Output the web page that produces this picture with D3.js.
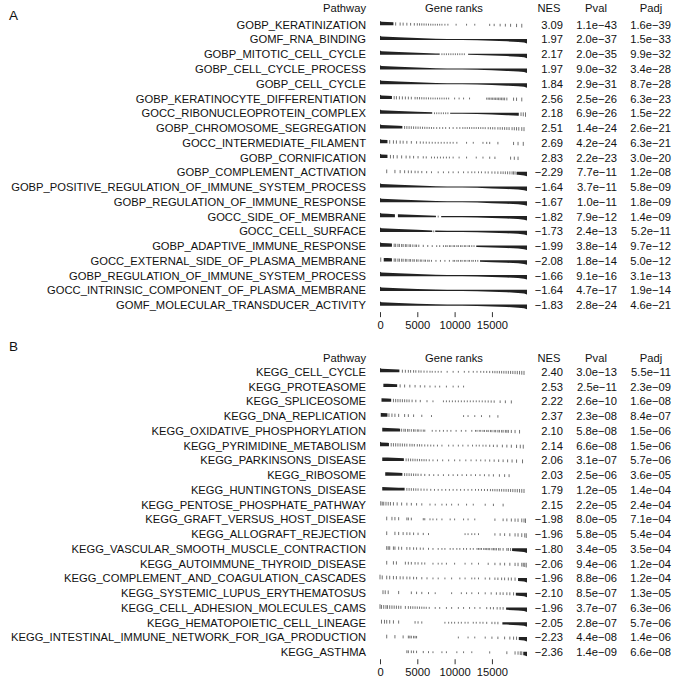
<!DOCTYPE html>
<html>
<head>
<meta charset="utf-8">
<script src="https://cdn.jsdelivr.net/npm/d3@7"></script>
<style>
  body { margin: 0; background: #fff; }
  text { font-family: "Liberation Sans", Arial, Helvetica, sans-serif; fill: #111; }
</style>
</head>
<body>
<div id="canvas"></div>
<script>
// ---- data (gene ranks given in thousands) ----
var goPathways = ['GOBP_KERATINIZATION','GOMF_RNA_BINDING','GOBP_MITOTIC_CELL_CYCLE','GOBP_CELL_CYCLE_PROCESS',
  'GOBP_CELL_CYCLE','GOBP_KERATINOCYTE_DIFFERENTIATION','GOCC_RIBONUCLEOPROTEIN_COMPLEX','GOBP_CHROMOSOME_SEGREGATION',
  'GOCC_INTERMEDIATE_FILAMENT','GOBP_CORNIFICATION','GOBP_COMPLEMENT_ACTIVATION','GOBP_POSITIVE_REGULATION_OF_IMMUNE_SYSTEM_PROCESS',
  'GOBP_REGULATION_OF_IMMUNE_RESPONSE','GOCC_SIDE_OF_MEMBRANE','GOCC_CELL_SURFACE','GOBP_ADAPTIVE_IMMUNE_RESPONSE',
  'GOCC_EXTERNAL_SIDE_OF_PLASMA_MEMBRANE','GOBP_REGULATION_OF_IMMUNE_SYSTEM_PROCESS','GOCC_INTRINSIC_COMPONENT_OF_PLASMA_MEMBRANE',
  'GOMF_MOLECULAR_TRANSDUCER_ACTIVITY'];
var goNES = [3.09,1.97,2.17,1.97,1.84,2.56,2.18,2.51,2.69,2.83,-2.29,-1.64,-1.67,-1.82,-1.73,-1.99,-2.08,-1.66,-1.64,-1.83];
var goPval = ['1.1e-43','2.0e-37','2.0e-35','9.0e-32','2.9e-31','2.5e-26','6.9e-26','1.4e-24','4.2e-24','2.2e-23',
  '7.7e-11','3.7e-11','1.0e-11','7.9e-12','2.4e-13','3.8e-14','1.8e-14','9.1e-16','4.7e-17','2.8e-24'];
var goPadj = ['1.6e-39','1.5e-33','9.9e-32','3.4e-28','8.7e-28','6.3e-23','1.5e-22','2.6e-21','6.3e-21','3.0e-20',
  '1.2e-08','5.8e-09','1.8e-09','1.4e-09','5.2e-11','9.7e-12','5.0e-12','3.1e-13','1.9e-14','4.6e-21'];
// runs of rank positions packed too tightly to tell apart
var goDense = [
  [[0,1.8]], [[0,19.7]], [[0,8.0],[11.8,19.7]], [[0,19.7]], [[0,19.7]],
  [[0,1.6]], [[0,7.0],[9.4,18.6]], [[0,3.0]], [[0,1.0]], [[0,1.0]],
  [[18.3,19.7]], [[0,19.7]], [[0,19.7]], [[0,2.0],[2.4,7.5],[8.2,19.7]], [[0,7.0],[7.4,19.7]],
  [[0,1.6],[12.9,19.7]], [[0.5,1.6],[13.4,19.7]], [[0,19.7]], [[0,19.7]], [[0,19.7]]
];
// single gene positions
var goTicks = [
  [2.1,2.7,3.1,3.6,4.1,4.6,5.0,5.3,5.6,5.9,6.2,6.5,6.8,7.1,7.4,7.7,8.0,8.3,8.7,9.1,10.2,11.6,12.7,14.7,15.3,16.1,16.8,17.5,18.3,19.0],
  [],
  [8.3,8.6,8.9,9.2,9.5,9.8,10.1,10.4,10.7,11.0,11.3],
  [],
  [],
  [1.9,2.2,2.6,3.0,3.4,3.8,4.2,4.7,5.0,5.3,5.6,5.9,6.2,6.5,6.8,7.1,7.4,7.7,8.0,8.3,8.6,8.9,9.2,10.0,10.6,11.2,12.0,
   14.3,14.5,14.7,14.9,15.1,15.3,15.5,15.7,15.9,16.1,16.3,16.5,16.7,17.0,17.9,18.3,19.0],
  [7.3,7.6,7.9,8.2,8.5,8.8,9.1,18.9,19.2,19.5],
  [3.3,3.6,3.9,4.2,4.5,4.8,5.1,5.4,5.7,6.0,6.3,6.6,6.9,7.2,7.6,8.0,8.4,8.8,9.3,9.8,10.3,10.7,11.1,11.4,11.7,12.0,12.3,
   12.6,12.9,13.2,13.5,13.8,14.1,14.5,14.8,15.1,15.4,15.8,16.1,16.4,16.7,17.0,17.3,17.7,18.0,18.3,18.6,19.0,19.3],
  [1.3,1.8,2.2,2.7,3.1,3.6,4.2,4.9,5.4,5.8,6.2,6.6,7.0,7.4,7.8,8.2,8.6,9.0,9.4,9.8,10.3,11.6,12.5,13.8,14.3,14.7,15.8,17.9,18.5,19.2],
  [1.4,1.8,2.3,2.9,3.5,4.0,4.5,5.1,5.8,6.2,6.9,7.3,7.7,8.1,8.5,8.9,9.3,9.8,10.6,11.6,12.9,13.8,14.7,15.4,17.5,18.0,18.5],
  [0.9,2.0,2.7,3.3,3.8,4.2,4.7,5.1,5.6,6.25,6.9,7.8,8.5,9.2,9.8,10.5,11.2,11.8,12.3,12.7,13.2,13.6,14.1,14.5,15.0,
   15.4,15.8,16.2,16.5,16.8,17.1,17.4,17.7,17.9,18.1],
  [], [], [7.8], [7.2],
  [1.9,2.1,2.4,2.6,2.9,3.1,3.4,3.6,3.9,4.1,4.4,4.7,4.9,5.2,5.8,6.4,7.0,7.6,8.0,8.5,8.8,9.0,9.3,9.5,9.8,10.0,10.3,10.5,
   10.8,11.0,11.3,11.5,11.8,12.0,12.3,12.6],
  [0.1,1.9,2.1,2.4,2.6,2.9,3.1,3.4,3.6,3.9,4.1,4.4,4.6,4.9,5.1,5.4,5.6,5.9,6.1,6.4,6.6,6.9,7.5,8.1,8.7,9.3,9.8,10.0,
   10.3,10.5,10.8,11.0,11.3,11.5,11.8,12.0,12.3,12.5,12.8,13.1],
  [], [], []
];

var keggPathways = ['KEGG_CELL_CYCLE','KEGG_PROTEASOME','KEGG_SPLICEOSOME','KEGG_DNA_REPLICATION',
  'KEGG_OXIDATIVE_PHOSPHORYLATION','KEGG_PYRIMIDINE_METABOLISM','KEGG_PARKINSONS_DISEASE','KEGG_RIBOSOME',
  'KEGG_HUNTINGTONS_DISEASE','KEGG_PENTOSE_PHOSPHATE_PATHWAY','KEGG_GRAFT_VERSUS_HOST_DISEASE','KEGG_ALLOGRAFT_REJECTION',
  'KEGG_VASCULAR_SMOOTH_MUSCLE_CONTRACTION','KEGG_AUTOIMMUNE_THYROID_DISEASE','KEGG_COMPLEMENT_AND_COAGULATION_CASCADES',
  'KEGG_SYSTEMIC_LUPUS_ERYTHEMATOSUS','KEGG_CELL_ADHESION_MOLECULES_CAMS','KEGG_HEMATOPOIETIC_CELL_LINEAGE',
  'KEGG_INTESTINAL_IMMUNE_NETWORK_FOR_IGA_PRODUCTION','KEGG_ASTHMA'];
var keggNES = [2.40,2.53,2.22,2.37,2.10,2.14,2.06,2.03,1.79,2.15,-1.98,-1.96,-1.80,-2.06,-1.96,-2.10,-1.96,-2.05,-2.23,-2.36];
var keggPval = ['3.0e-13','2.5e-11','2.6e-10','2.3e-08','5.8e-08','6.6e-08','3.1e-07','2.5e-06','1.2e-05','2.2e-05',
  '8.0e-05','5.8e-05','3.4e-05','9.4e-06','8.8e-06','8.5e-07','3.7e-07','2.8e-07','4.4e-08','1.4e-09'];
var keggPadj = ['5.5e-11','2.3e-09','1.6e-08','8.4e-07','1.5e-06','1.5e-06','5.7e-06','3.6e-05','1.4e-04','2.4e-04',
  '7.1e-04','5.4e-04','3.5e-04','1.2e-04','1.2e-04','1.3e-05','6.3e-06','5.7e-06','1.4e-06','6.6e-08'];
var keggDense = [
  [[0,2.6]], [[0.45,2.3]], [[0.2,1.5]], [[0.1,1.0]], [[0.3,2.7]],
  [[0,1.2]], [[0.3,3.2]], [[0.7,3.0]], [[0.3,3.3]], [],
  [], [], [[17.7,19.7]], [], [[18.5,19.7]],
  [[18.2,19.7]], [[16.9,19.7]], [[16.4,19.7]], [[18.6,19.7]], [[19.2,19.7]]
];
var keggTicks = [
  [3.0,3.4,3.8,4.1,4.5,4.8,5.2,5.5,5.9,6.3,6.7,7.0,7.4,7.8,8.2,9.0,9.8,10.5,11.3,11.9,12.5,13.0,13.5,13.9,14.3,14.7,
   15.1,15.4,15.7,16.0,16.3,16.6,16.9,17.2,17.5,17.8,18.1,18.4,18.7,19.0,19.3],
  [2.7,3.3,4.0,4.7,5.4,6.0,6.7,7.4,8.0,8.9,9.8,10.5,11.2],
  [1.8,2.1,2.4,2.7,3.0,3.3,3.6,3.9,4.3,4.8,5.4,6.3,7.1,8.5,8.9,9.3,9.7,10.1,10.5,10.9,11.3,11.7,12.1,12.5,12.9,13.3,
   13.7,14.1,14.5,14.9,15.3,16.1,16.8,17.6],
  [1.2,1.6,2.0,2.5,3.3,3.8,4.5,5.6,6.9,11.2,11.8,12.7,13.6,14.7,15.8],
  [2.9,3.2,3.4,3.7,3.9,4.2,4.5,4.7,5.0,5.2,5.5,5.8,6.0,7.0,7.5,8.0,8.5,9.0,9.5,10.2,10.9,11.5,12.3,12.8,13.0,13.3,13.5,
   13.8,14.0,14.3,14.5,14.8,15.0,15.3,15.5,15.8,16.0,16.3,16.5,16.8,17.0,17.2,17.6,18.1,18.7],
  [1.5,1.8,2.1,2.4,2.7,3.0,3.3,3.6,4.0,4.3,4.6,5.0,5.3,5.6,6.0,6.4,6.8,7.2,7.7,8.3,9.2,9.8,10.5,11.1,11.8,12.4,12.9,
   13.3,13.8,14.2,14.7,15.2,15.7,16.4,17.0,17.6,18.3,18.8,19.2],
  [3.5,3.8,4.1,4.4,4.7,5.0,5.3,5.6,5.9,6.2,6.6,7.1,7.7,8.4,9.2,10.0,10.7,11.5,12.2,12.9,13.5,14.1,14.7,15.3,15.9,16.5,
   17.1,17.7,18.3,19.1],
  [3.3,3.6,3.9,4.2,4.5,4.8,5.1,5.5,6.0,6.6,7.2,7.8,8.5,9.2,9.8,10.4,11.0,11.6,12.2,12.8,13.4,14.0,14.6,15.2,16.0,16.7,17.3],
  [3.6,3.9,4.2,4.5,4.8,5.1,5.5,5.9,6.3,6.8,7.3,7.8,8.3,8.8,9.3,9.8,10.3,10.8,11.3,11.8,12.3,12.8,13.2,13.6,14.0,14.4,
   14.8,15.1,15.4,15.7,16.0,16.3,16.6,16.9,17.2,17.5,17.8,18.1,18.4,18.7,19.0,19.3],
  [0.1,0.3,0.5,0.8,1.1,1.4,1.8,2.3,2.9,3.6,4.2,4.9,5.6,6.7,7.4,8.3,8.9,9.6,10.5,11.6,12.5,14.1,15.2,16.5],
  [0.9,1.6,2.0,2.5,3.6,3.8,4.2,5.8,6.0,6.7,7.1,7.6,8.3,9.4,10.0,11.2,11.8,12.7,15.4,16.5,17.0,17.6,18.1,18.5,19.0,19.3,19.5],
  [0.9,2.0,2.5,3.1,3.6,4.0,4.5,5.1,5.8,6.5,11.4,11.8,12.3,12.7,13.2,15.4,16.1,16.7,17.4,18.1,18.5,19.0,19.4,19.6],
  [0.9,1.1,1.3,1.8,2.0,2.5,2.9,3.6,4.0,4.5,4.9,5.4,5.8,6.5,7.1,7.8,8.3,8.7,9.4,9.8,10.3,10.7,11.2,11.6,12.1,12.5,13.0,
   13.2,13.4,13.6,13.9,14.1,14.3,14.5,14.7,15.0,15.2,15.4,15.6,15.9,16.1,16.5,17.0,17.2,17.5],
  [0.9,1.8,2.2,3.4,3.8,4.2,4.7,5.1,5.6,6.0,7.1,7.8,8.3,8.9,10.0,11.4,12.3,13.2,14.5,15.4,16.1,16.7,17.4,18.1,18.5,
   19.0,19.2,19.4,19.6],
  [0,0.3,0.9,1.3,1.8,2.2,2.7,3.1,3.6,4.0,4.5,4.9,5.6,6.3,7.1,7.8,8.7,9.6,10.7,11.4,12.3,12.7,13.2,14.1,14.7,15.4,
   15.8,16.3,16.7,17.2,17.6,18.1],
  [0.4,0.7,1.1,2.5,4.2,4.9,5.6,6.5,7.4,9.6,10.9,11.6,12.3,13.2,14.1,14.9,15.6,16.1,16.5,17.0,17.4,17.9],
  [0,0.2,0.5,0.8,1.0,1.3,1.6,1.9,2.2,2.5,2.8,3.4,3.8,4.1,4.4,4.7,5.0,5.3,5.6,5.9,6.2,6.6,7.4,8.0,8.9,9.6,10.5,11.2,
   12.0,12.7,13.4,14.3,14.8,15.2,15.7,16.1,16.5],
  [0.2,0.6,0.9,1.3,1.8,2.5,4.7,5.1,5.6,8.7,9.2,9.6,10.0,10.5,10.9,11.4,11.8,12.5,12.9,13.4,13.8,14.3,15.0,15.4,15.8],
  [0.9,2.0,3.1,3.8,4.0,4.2,4.5,4.7,4.9,10.5,11.8,12.7,14.1,15.0,15.8,16.7,17.4,17.9,18.3],
  [3.6,3.8,4.2,4.5,4.9,5.8,6.5,7.1,8.3,8.9,10.3,11.2,12.3,14.7,17.0,18.1,18.5,18.8,19.0]
];

// ranked gene statistic (scaled to max |stat| = 1)
var statRanks = [0, 0.2, 1, 2.5, 5, 7.5, 9, 10, 11, 13, 15, 17, 18.5, 19.3, 19.7];
var statValues = [0.75, 0.6, 0.55, 0.45, 0.3, 0.16, 0.06, 0, -0.06, -0.16, -0.27, -0.38, -0.5, -0.62, -0.8];

var rankTicks = [0, 5000, 10000, 15000];
var nGenes = 19700;
var headers = ['Pathway', 'Gene ranks', 'NES', 'Pval', 'Padj'];

// ---- layout ----
var W = 686, H = 682;
var svg = d3.select('#canvas').append('svg').attr('width', W).attr('height', H);

var x = d3.scaleLinear().domain([0, nGenes]).range([380, 527]);
var stat = d3.scaleLinear().domain(statRanks).range(statValues);
var barH = d3.scaleLinear().domain([0, 1]).range([0, 5]);
var fmtNES = d3.format('.2f');
var minus = function(s){ return s.replace('-', '\u2212'); };

var fs = 11.2;

function drawPanel(p) {
  var g = svg.append('g');
  var step = 14.76;
  var y = d3.scalePoint().domain(p.pathways).range([p.y0, p.y0 + step * (p.pathways.length - 1)]);

  g.append('text').attr('x', 9).attr('y', p.letterY).style('font-size', '13.5px').text(p.letter);

  var hx = [366, 454, 549, 596, 651];
  g.selectAll('.head').data(headers).enter().append('text')
    .attr('x', function(d, i){ return hx[i]; })
    .attr('y', p.headY)
    .attr('text-anchor', function(d, i){ return i == 0 ? 'end' : 'middle'; })
    .style('font-size', fs + 'px')
    .text(function(d){ return d; });

  var rows = g.selectAll('.row').data(p.pathways).enter().append('g')
    .attr('class', 'row')
    .attr('transform', function(d){ return 'translate(0,' + y(d) + ')'; });

  rows.append('text').attr('x', 366).attr('y', 4).attr('text-anchor', 'end')
    .style('font-size', fs + 'px').text(function(d){ return d; });

  var area = d3.area()
    .x(function(r){ return x(r * 1000); })
    .y1(function(r){ return -Math.max(barH(stat(r)), 0.55); })
    .y0(function(r){ return Math.max(-barH(stat(r)), 0.55); });

  rows.each(function(d, i){
    var row = d3.select(this);
    p.dense[i].forEach(function(span){
      var pts = [span[0]].concat(statRanks.filter(function(r){ return r > span[0] && r < span[1]; }), [span[1]]);
      row.append('path').attr('d', area(pts)).attr('fill', '#222');
    });
    row.selectAll('.tick-g').data(p.ticks[i]).enter().append('line')
      .attr('x1', function(r){ return x(r * 1000); })
      .attr('x2', function(r){ return x(r * 1000); })
      .attr('y1', function(r){ return -Math.max(barH(stat(r)), 0.9); })
      .attr('y2', function(r){ return Math.max(-barH(stat(r)), 0.9); })
      .attr('stroke', '#333').attr('stroke-width', 0.7);

    row.append('text').attr('x', 563).attr('y', 4).attr('text-anchor', 'end')
      .style('font-size', fs + 'px').text(fmtNES(p.nes[i]));
    row.append('text').attr('x', 617).attr('y', 4).attr('text-anchor', 'end')
      .style('font-size', fs + 'px').text(minus(p.pval[i]));
    row.append('text').attr('x', 671).attr('y', 4).attr('text-anchor', 'end')
      .style('font-size', fs + 'px').text(minus(p.padj[i]));
  });

  var axis = d3.axisBottom(x).tickValues(rankTicks).tickSize(5).tickPadding(4).tickFormat(d3.format('d'));
  var ax = g.append('g')
    .attr('transform', 'translate(0,' + (y.range()[1] + 7) + ')')
    .call(axis);
  ax.select('.domain').remove();
  ax.selectAll('line').attr('stroke', '#333');
  ax.selectAll('text').style('font-size', fs + 'px').attr('fill', '#111')
    .style('font-family', '"Liberation Sans", Arial, Helvetica, sans-serif');
}

drawPanel({letter: 'A', letterY: 20, headY: 12, y0: 24.7,
  pathways: goPathways, nes: goNES, pval: goPval, padj: goPadj, dense: goDense, ticks: goTicks});
drawPanel({letter: 'B', letterY: 351, headY: 362, y0: 371.8,
  pathways: keggPathways, nes: keggNES, pval: keggPval, padj: keggPadj, dense: keggDense, ticks: keggTicks});
</script>
</body>
</html>
